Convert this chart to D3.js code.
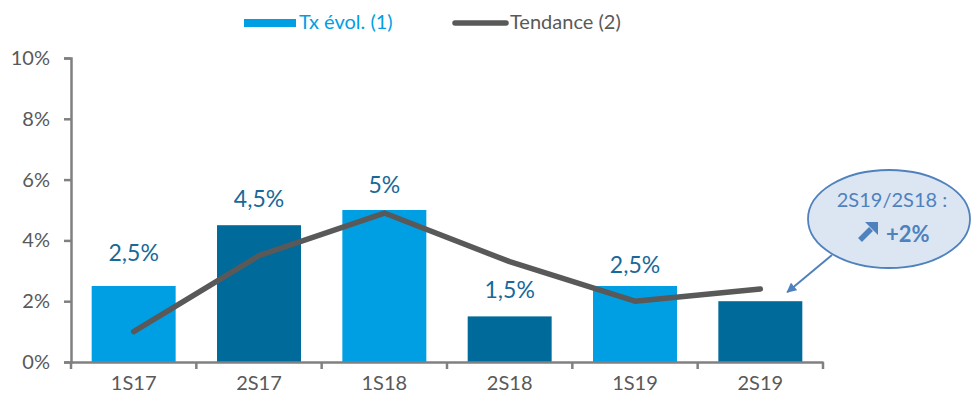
<!DOCTYPE html>
<html>
<head>
<meta charset="utf-8">
<script src="https://cdn.jsdelivr.net/npm/d3@7"></script>
<style>
  body { margin: 0; background: #fff; }
  text { font-family: Lato, "Open Sans", sans-serif; }
</style>
</head>
<body>
<div id="chart"></div>
<script>
// data
var categories = ["1S17", "2S17", "1S18", "2S18", "1S19", "2S19"];
var txEvol = [0.025, 0.045, 0.05, 0.015, 0.025, 0.02];
var tendance = [0.010, 0.035, 0.049, 0.033, 0.020, 0.024];
var yTicks = [0, 0.02, 0.04, 0.06, 0.08, 0.10];
var seriesNames = ["Tx évol. (1)", "Tendance (2)"];
var calloutLines = ["2S19/2S18 :", "+2%"];

// layout
var svgWidth = 973, svgHeight = 401;
var plot = { left: 71, right: 823, top: 58, bottom: 362 };
var labelLift = [25, 18, 17, 18, 13, null];   // how far each value label floats over its bar
var lightBlue = "#009fe3", darkBlue = "#006a9b", labelBlue = "#17699a";
var grey = "#595959", axisGrey = "#808080", calloutBlue = "#4f81bd";

var fr = d3.formatLocale({ decimal: ",", thousands: " ", grouping: [3], currency: ["", " €"] });
var pctLabel = fr.format("~%");

var svg = d3.select("#chart").append("svg")
    .attr("width", svgWidth)
    .attr("height", svgHeight);

svg.append("rect").attr("width", svgWidth).attr("height", svgHeight).attr("fill", "#fff");

var x = d3.scaleBand()
    .domain(categories)
    .range([plot.left, plot.right])
    .paddingInner(0.33)
    .paddingOuter(0.165);

var y = d3.scaleLinear()
    .domain([0, 0.10])
    .range([plot.bottom, plot.top]);

// bars
svg.append("g").selectAll("rect")
    .data(categories)
    .join("rect")
    .attr("x", function (d) { return x(d); })
    .attr("y", function (d, i) { return y(txEvol[i]); })
    .attr("width", x.bandwidth())
    .attr("height", function (d, i) { return y(0) - y(txEvol[i]); })
    .attr("fill", function (d, i) { return i % 2 === 0 ? lightBlue : darkBlue; });

// y axis
var yAxis = svg.append("g")
    .attr("transform", `translate(${plot.left},0)`)
    .call(d3.axisLeft(y).tickValues(yTicks).tickFormat(d3.format(".0%")).tickSize(7).tickPadding(14));
yAxis.select(".domain").attr("stroke", axisGrey).attr("stroke-width", 2.5);
yAxis.selectAll(".tick line").attr("stroke", axisGrey).attr("stroke-width", 2.5);
yAxis.selectAll(".tick text").attr("fill", grey).style("font-size", "20px").style("font-family", "Lato, sans-serif");

// x axis: labels at band centres, ticks between categories
var xAxis = svg.append("g")
    .attr("transform", `translate(0,${plot.bottom})`)
    .call(d3.axisBottom(x).tickSize(0).tickPadding(14));
xAxis.select(".domain").attr("stroke", axisGrey).attr("stroke-width", 2.5);
xAxis.selectAll(".tick text").attr("fill", grey).style("font-size", "20px").style("font-family", "Lato, sans-serif");

var step = x.step();
var boundaries = categories.map(function (d) { return x(d) - step * x.paddingInner() / 2; });
boundaries.push(plot.right);
xAxis.selectAll(".bound")
    .data(boundaries)
    .join("line")
    .attr("class", "bound")
    .attr("x1", function (d) { return d; })
    .attr("x2", function (d) { return d; })
    .attr("y1", 0)
    .attr("y2", 7)
    .attr("stroke", axisGrey)
    .attr("stroke-width", 2.5);

// trend line
var line = d3.line()
    .x(function (d, i) { return x(categories[i]) + x.bandwidth() / 2; })
    .y(function (d) { return y(d); });

svg.append("path")
    .datum(tendance)
    .attr("d", line)
    .attr("fill", "none")
    .attr("stroke", grey)
    .attr("stroke-width", 5.5)
    .attr("stroke-linecap", "round")
    .attr("stroke-linejoin", "round");

// value labels
svg.append("g").selectAll("text")
    .data(categories.filter(function (d, i) { return labelLift[i] !== null; }))
    .join("text")
    .attr("x", function (d) { return x(d) + x.bandwidth() / 2; })
    .attr("y", function (d) { var i = categories.indexOf(d); return y(txEvol[i]) - labelLift[i]; })
    .attr("text-anchor", "middle")
    .attr("fill", labelBlue)
    .style("font-size", "23px")
    .text(function (d) { return pctLabel(txEvol[categories.indexOf(d)]); });

// legend
var legend = svg.append("g");
legend.append("rect")
    .attr("x", 244).attr("y", 19).attr("width", 52).attr("height", 8)
    .attr("fill", lightBlue);
legend.append("text")
    .attr("x", 299).attr("y", 29)
    .attr("fill", lightBlue)
    .style("font-size", "20px")
    .text(seriesNames[0]);
legend.append("line")
    .attr("x1", 455).attr("x2", 506).attr("y1", 23).attr("y2", 23)
    .attr("stroke", grey).attr("stroke-width", 5.5).attr("stroke-linecap", "round");
legend.append("text")
    .attr("x", 510).attr("y", 29)
    .attr("fill", grey)
    .style("font-size", "20px")
    .text(seriesNames[1]);

// callout bubble pointing at the last bar
var defs = svg.append("defs");
defs.append("marker")
    .attr("id", "head")
    .attr("viewBox", "0 0 10 10")
    .attr("refX", 9).attr("refY", 5)
    .attr("markerWidth", 5).attr("markerHeight", 5)
    .attr("orient", "auto")
    .append("path")
    .attr("d", "M0,0 L10,5 L0,10 Z")
    .attr("fill", calloutBlue);

var lastCat = categories[categories.length - 1];
var tipX = x(lastCat) + x.bandwidth() * 0.82;
var tipY = y(txEvol[txEvol.length - 1]) - 9;

svg.append("line")
    .attr("x1", 832).attr("y1", 255)
    .attr("x2", tipX).attr("y2", tipY)
    .attr("stroke", calloutBlue)
    .attr("stroke-width", 2)
    .attr("marker-end", "url(#head)");

svg.append("ellipse")
    .attr("cx", 889).attr("cy", 219)
    .attr("rx", 81).attr("ry", 49)
    .attr("fill", "#dce6f2")
    .attr("stroke", calloutBlue)
    .attr("stroke-width", 1.8);

svg.append("text")
    .attr("x", 892).attr("y", 207)
    .attr("text-anchor", "middle")
    .attr("fill", calloutBlue)
    .style("font-size", "20px")
    .text(calloutLines[0]);

// bold up-right arrow icon
var icon = svg.append("g").attr("transform", "translate(868,232)");
icon.append("line")
    .attr("x1", -8).attr("y1", 8).attr("x2", 3).attr("y2", -3)
    .attr("stroke", calloutBlue).attr("stroke-width", 5.5);
icon.append("path")
    .attr("d", "M10,-10 L-3,-10 L10,3 Z")
    .attr("fill", calloutBlue);

svg.append("text")
    .attr("x", 886).attr("y", 242)
    .attr("fill", calloutBlue)
    .style("font-size", "22px")
    .style("font-weight", "bold")
    .text(calloutLines[1]);
</script>
</body>
</html>
